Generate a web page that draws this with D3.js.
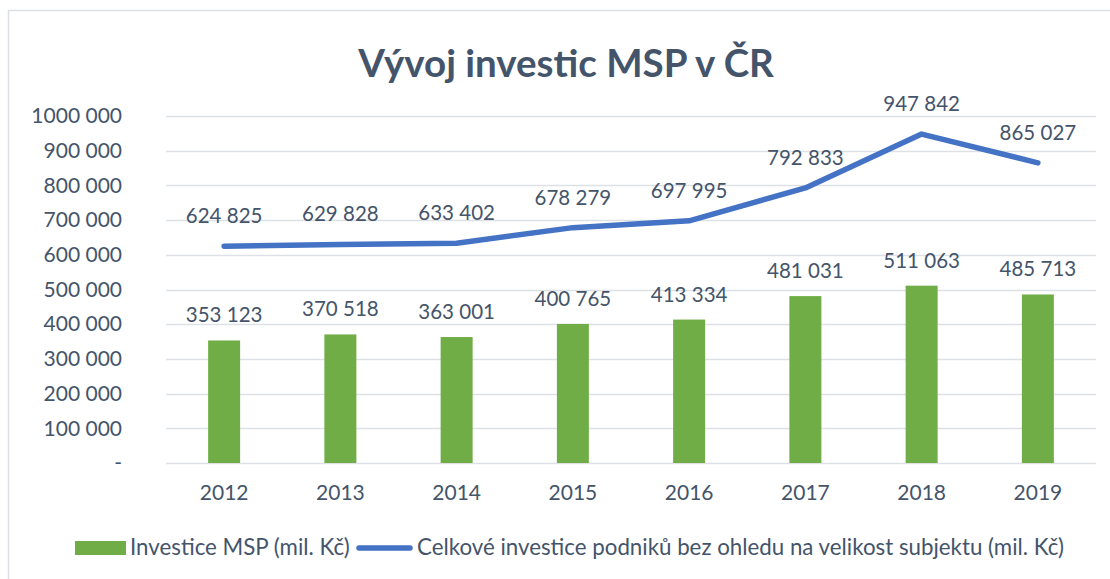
<!DOCTYPE html>
<html><head><meta charset="utf-8">
<script src="https://cdn.jsdelivr.net/npm/d3@7"></script>
<style>
body{margin:0;background:#fff;}
text{font-family:Lato,"Open Sans",sans-serif;}
</style></head>
<body><svg id="c" width="1110" height="579"></svg>
<script>
const years = ["2012","2013","2014","2015","2016","2017","2018","2019"];
const msp = [353123,370518,363001,400765,413334,481031,511063,485713];
const total = [624825,629828,633402,678279,697995,792833,947842,865027];
const yTicks = [0,100000,200000,300000,400000,500000,600000,700000,800000,900000,1000000];
const title = "Vývoj investic MSP v ČR";
const legendBar = "Investice MSP (mil. Kč)";
const legendLine = "Celkové investice podniků bez ohledu na velikost subjektu (mil. Kč)";

const svg = d3.select("#c");
const txt = "#44546A";
const fmt = v => v === 0 ? "-" : (v >= 1000000 ? String(Math.floor(v/1000)) + " " + String(v%1000).padStart(3,"0") : d3.format(",")(v).replace(/,/g," "));

svg.append("rect").attr("x",8.5).attr("y",10.5).attr("width",1120).attr("height",600)
  .attr("fill","#fff").attr("stroke","#DCE0E6").attr("stroke-width",1.5);

const x = d3.scaleBand().domain(years).range([166,1096]);
const y = d3.scaleLinear().domain([0,1000000]).range([463,116]);

svg.append("text").attr("x",566).attr("y",77).attr("text-anchor","middle")
  .attr("font-size",38.5).attr("font-weight","bold").attr("fill",txt).text(title);

// gridlines
svg.append("g").selectAll("line").data(yTicks).join("line")
  .attr("x1",166).attr("x2",1096).attr("y1",d=>Math.round(y(d))+0.5).attr("y2",d=>Math.round(y(d))+0.5)
  .attr("stroke","#DDE1E6").attr("stroke-width",1.5);

// y axis labels
const ya = svg.append("g").attr("transform","translate(122,0)")
  .call(d3.axisLeft(y).tickValues(yTicks).tickSize(0).tickPadding(0).tickFormat(fmt));
ya.select(".domain").remove();
ya.selectAll("text").attr("font-size",21).attr("fill",txt).style("font-family","Lato,sans-serif");

// x axis labels
const xa = svg.append("g").attr("transform","translate(0,485)")
  .call(d3.axisBottom(x).tickSize(0).tickPadding(0));
xa.select(".domain").remove();
xa.selectAll("text").attr("font-size",21).attr("fill",txt).style("font-family","Lato,sans-serif");

// bars
const bw = 32;
svg.append("g").selectAll("rect").data(msp).join("rect")
  .attr("x",(d,i)=>x(years[i])+x.bandwidth()/2-bw/2).attr("width",bw)
  .attr("y",d=>y(d)).attr("height",d=>y(0)-y(d)).attr("fill","#70AD47");

// line
const line = d3.line().x((d,i)=>x(years[i])+x.bandwidth()/2).y(d=>y(d));
svg.append("path").datum(total).attr("d",line).attr("fill","none")
  .attr("stroke","#4472C4").attr("stroke-width",5.5).attr("stroke-linecap","round").attr("stroke-linejoin","round");

// labels
svg.append("g").selectAll("text").data(msp).join("text")
  .attr("x",(d,i)=>x(years[i])+x.bandwidth()/2).attr("y",d=>y(d)-18)
  .attr("text-anchor","middle").attr("font-size",20.5).attr("fill",txt).text(fmt);
svg.append("g").selectAll("text").data(total).join("text")
  .attr("x",(d,i)=>x(years[i])+x.bandwidth()/2).attr("y",d=>y(d)-23)
  .attr("text-anchor","middle").attr("font-size",20.5).attr("fill",txt).text(fmt);

// legend
const lg = svg.append("g");
lg.append("rect").attr("x",75).attr("y",541).attr("width",51).attr("height",14).attr("fill","#70AD47");
lg.append("text").attr("x",130).attr("y",555).attr("font-size",22.3).attr("fill",txt).text(legendBar);
lg.append("line").attr("x1",359).attr("x2",410).attr("y1",548).attr("y2",548)
  .attr("stroke","#4472C4").attr("stroke-width",5.5).attr("stroke-linecap","round");
lg.append("text").attr("x",417).attr("y",555).attr("font-size",22.3).attr("fill",txt).text(legendLine);
</script></body></html>
